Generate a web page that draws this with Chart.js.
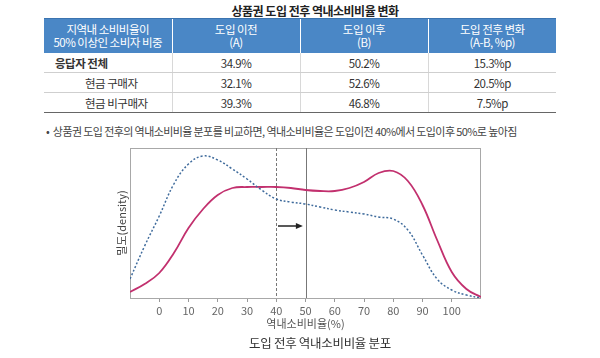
<!DOCTYPE html>
<html>
<head>
<meta charset="utf-8">
<script src="https://cdn.jsdelivr.net/npm/chart.js@4"></script>
<style>
  body { margin: 0; width: 600px; height: 358px; background: #fff; position: relative; overflow: hidden;
         font-family: "Noto Sans CJK KR", "Noto Sans", sans-serif; color: #333; }
  .abs { position: absolute; white-space: nowrap; }
  #tableTitle { left: 0; width: 630px; top: 2px; text-align: center; font-size: 12px; font-weight: bold; letter-spacing: -0.5px; color: #222; }
  table { position: absolute; left: 44px; top: 18px; border-collapse: collapse; table-layout: fixed; }
  th { background: #4a87c6; color: #fff; font-weight: normal; font-size: 11.5px; line-height: 13px; height: 34px;
       padding: 0; border-left: 1px solid #fff; border-top: 1px solid #3b74b0; letter-spacing: -0.5px; }
  th:first-child { border-left: none; }
  td { height: 19px; padding: 0; font-size: 11.5px; text-align: center; border-bottom: 1px solid #cfcfcf;
       border-left: 1px solid #d8d8d8; letter-spacing: -0.5px; color: #333; }
  td:first-child { border-left: none; text-align: left; }
  tr:last-child td { border-bottom: 1.5px solid #666; }
  .lead { padding-left: 11px; font-weight: bold; }
  .sub { padding-left: 41px; }
  #bullet { left: 46px; top: 123px; font-size: 11px; letter-spacing: -0.6px; color: #444; }
  #chartWrap { position: absolute; left: 100px; top: 140px; width: 390px; height: 200px; }
  #chartTitle { left: 0; width: 640px; top: 333px; text-align: center; font-size: 12.5px; color: #333; letter-spacing: -0.3px; }
</style>
</head>
<body>
<div id="tableTitle" class="abs">상품권 도입 전후 역내소비비율 변화</div>
<table>
  <colgroup><col style="width:128px"><col style="width:128px"><col style="width:128px"><col style="width:128px"></colgroup>
  <thead id="thead"></thead>
  <tbody id="tbody"></tbody>
</table>
<div id="bullet" class="abs">•&nbsp; 상품권 도입 전후의 역내소비비율 분포를 비교하면, 역내소비비율은 도입이전 40%에서 도입이후 50%로 높아짐</div>
<div id="chartWrap"><canvas id="densityChart" width="390" height="200"></canvas></div>
<div id="chartTitle" class="abs">도입 전후 역내소비비율 분포</div>

<script>
// table
const headerCells = [
    ["지역내 소비비율이", "50% 이상인 소비자 비중"],
    ["도입 이전", "(A)"],
    ["도입 이후", "(B)"],
    ["도입 전후 변화", "(A-B, %p)"]
];
const groupNames = ["응답자 전체", "현금 구매자", "현금 비구매자"];
const shareBefore = ["34.9%", "32.1%", "39.3%"];
const shareAfter = ["50.2%", "52.6%", "46.8%"];
const shareChange = ["15.3%p", "20.5%p", "7.5%p"];

// density chart
const densityX = [-10, -5, 0, 5, 10, 15, 20, 25, 30, 35, 40, 45, 50, 55, 60, 65, 70, 75, 80, 85, 90, 95, 100, 105, 110];
const beforeDensity = [19, 52, 82, 114, 134, 142, 138, 129, 119, 108, 99, 96, 94, 91, 88, 86, 84, 81, 79, 68, 43, 19, 8, 3, 0];
const afterDensity = [6, 14, 25, 45, 70, 89, 103, 110, 111, 111, 111, 110, 108, 107, 107, 110, 116, 125, 127, 117, 93, 58, 26, 9, 1];
const xTickValues = [0, 10, 20, 30, 40, 50, 60, 70, 80, 90, 100];
const beforeMean = 40;
const afterMean = 50;
const arrowFrom = 40.6;
const arrowTo = 49.1;
const arrowLevel = 72;

let hrow = document.getElementById('thead').insertRow(-1);
headerCells.forEach(lines => {
    let th = document.createElement('th');
    th.innerHTML = lines.join('<br>');
    hrow.appendChild(th);
});
groupNames.forEach((name, i) => {
    let row = document.getElementById('tbody').insertRow(-1);
    let c = row.insertCell(-1);
    c.textContent = name;
    c.classList.add(i === 0 ? 'lead' : 'sub');
    [shareBefore[i], shareAfter[i], shareChange[i]].forEach(v => {
        row.insertCell(-1).textContent = v;
    });
});

const toPoints = vals => vals.map((v, i) => ({x: densityX[i], y: v}));

const markers = {
    id: 'markers',
    beforeDatasetsDraw(chart) {
        const {ctx, chartArea: a, scales: {x, y}} = chart;
        ctx.save();
        // plot frame
        ctx.strokeStyle = '#a8a8a8';
        ctx.lineWidth = 1;
        ctx.strokeRect(a.left + 0.5, a.top + 0.5, a.right - a.left - 1, a.bottom - a.top);
        // mean lines
        ctx.strokeStyle = '#777';
        ctx.setLineDash([3, 2]);
        let px = Math.round(x.getPixelForValue(beforeMean)) + 0.5;
        ctx.beginPath(); ctx.moveTo(px, a.top); ctx.lineTo(px, a.bottom); ctx.stroke();
        ctx.setLineDash([]);
        px = Math.round(x.getPixelForValue(afterMean)) + 0.5;
        ctx.beginPath(); ctx.moveTo(px, a.top); ctx.lineTo(px, a.bottom); ctx.stroke();
        // arrow
        const x1 = x.getPixelForValue(arrowFrom), x2 = x.getPixelForValue(arrowTo);
        const ay = y.getPixelForValue(arrowLevel);
        ctx.strokeStyle = '#222';
        ctx.fillStyle = '#222';
        ctx.lineWidth = 1.5;
        ctx.beginPath(); ctx.moveTo(x1, ay); ctx.lineTo(x2 - 5, ay); ctx.stroke();
        ctx.beginPath(); ctx.moveTo(x2, ay); ctx.lineTo(x2 - 7, ay - 3); ctx.lineTo(x2 - 7, ay + 3); ctx.closePath(); ctx.fill();
        ctx.restore();
    }
};

const chart = new Chart(document.getElementById('densityChart'), {
    type: 'line',
    data: {
        datasets: [{
            label: '도입 이전',
            data: toPoints(beforeDensity),
            borderColor: '#3f6b9c',
            borderWidth: 1.5,
            borderDash: [2, 2],
            pointRadius: 0,
            tension: 0.4
        }, {
            label: '도입 이후',
            data: toPoints(afterDensity),
            borderColor: '#c2306e',
            borderWidth: 1.8,
            pointRadius: 0,
            tension: 0.4
        }]
    },
    options: {
        responsive: false,
        animation: false,
        layout: { padding: { top: 8, right: 9, bottom: 0, left: 0 } },
        plugins: { legend: { display: false }, tooltip: { enabled: false } },
        scales: {
            x: {
                type: 'linear',
                min: -10,
                max: 110,
                afterBuildTicks: s => { s.ticks = xTickValues.map(v => ({value: v})); },
                afterFit: s => { s.height = 42; },
                grid: { drawOnChartArea: false, drawTicks: true, tickLength: 4, color: '#999' },
                border: { display: false },
                ticks: { padding: 2, color: '#666', font: { family: 'Noto Sans CJK KR', size: 11, lineHeight: 1.2 } },
                title: { display: true, text: '역내소비비율(%)', color: '#555', padding: { top: 0, bottom: 10 },
                         font: { family: 'Noto Sans CJK KR', size: 11, lineHeight: 1.2 } }
            },
            y: {
                min: 0,
                max: 150,
                afterFit: s => { s.width = 30; },
                grid: { display: false },
                border: { display: false },
                ticks: { display: false },
                title: { display: true, text: '밀도(density)', color: '#444', padding: { top: 15, bottom: 0 },
                         font: { family: 'Noto Sans CJK KR', size: 11, lineHeight: 1.2 } }
            }
        }
    },
    plugins: [markers]
});
</script>
</body>
</html>
